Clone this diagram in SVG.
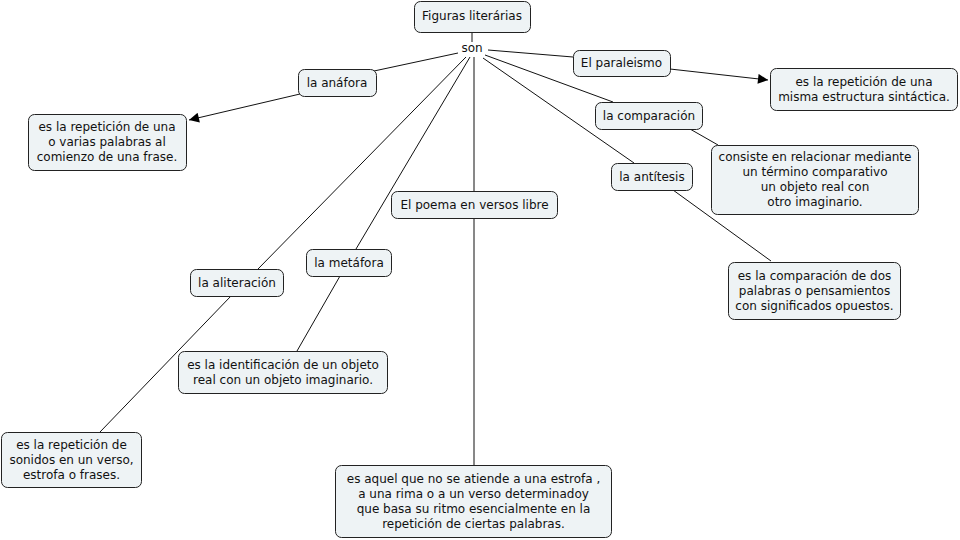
<svg xmlns="http://www.w3.org/2000/svg" width="960" height="540" viewBox="0 0 960 540">
<style>
.n rect{fill:#eef3f5;stroke:#222;stroke-width:1}
text{font-family:"DejaVu Sans",Verdana,sans-serif;font-size:12px;fill:#111;text-anchor:middle}
.c line{stroke:#111;stroke-width:1}
</style>
<defs>
<marker id="ah" viewBox="0 0 10 10" refX="10" refY="5" markerWidth="14" markerHeight="10" markerUnits="userSpaceOnUse" orient="auto">
<path d="M0,0 L10,5 L0,10 z" fill="#000"/>
</marker>
</defs>
<rect width="960" height="540" fill="#fff"/>
<g class="c">
<line x1="472" y1="32" x2="472" y2="42"/>
<line x1="458" y1="53" x2="374" y2="71"/>
<line x1="300" y1="94" x2="189" y2="120" marker-end="url(#ah)"/>
<line x1="488" y1="50" x2="573" y2="57"/>
<line x1="670" y1="69" x2="768" y2="80" marker-end="url(#ah)"/>
<line x1="485" y1="55" x2="613" y2="102"/>
<line x1="690" y1="129" x2="718" y2="145"/>
<line x1="483" y1="58" x2="634" y2="163"/>
<line x1="673" y1="190" x2="771" y2="261"/>
<line x1="474" y1="57" x2="474" y2="191"/>
<line x1="474" y1="218" x2="474" y2="465"/>
<line x1="470" y1="57" x2="356" y2="249"/>
<line x1="340" y1="276" x2="297" y2="351"/>
<line x1="466" y1="57" x2="258" y2="269"/>
<line x1="231" y1="296" x2="100" y2="432"/>
</g>
<g id="figuras" class="n"><rect x="414.5" y="1.5" width="116" height="31" rx="6"/><text x="472" y="20">Figuras literárias</text></g>
<g id="son"><text x="472" y="52">son</text></g>
<g id="anafora" class="n"><rect x="298.5" y="69.5" width="78" height="27" rx="6"/><text x="337" y="87">la anáfora</text></g>
<g id="anafora-def" class="n"><rect x="28.5" y="114.5" width="158" height="56" rx="6"/><text x="107" y="131">es la repetición de una</text><text x="107" y="146">o varias palabras al</text><text x="107" y="161">comienzo de una frase.</text></g>
<g id="paraleismo" class="n"><rect x="573.5" y="50.5" width="97" height="26" rx="6"/><text x="621.5" y="67">El paraleismo</text></g>
<g id="paraleismo-def" class="n"><rect x="770.5" y="68.5" width="187" height="42" rx="6"/><text x="864" y="85.5">es la repetición de una</text><text x="864" y="100.5">misma estructura sintáctica.</text></g>
<g id="comparacion" class="n"><rect x="595.5" y="102.5" width="107" height="27" rx="6"/><text x="649" y="120">la comparación</text></g>
<g id="comparacion-def" class="n"><rect x="711.5" y="145.5" width="207" height="69" rx="6"/><text x="815" y="161">consiste en relacionar mediante</text><text x="815" y="176">un término comparativo</text><text x="815" y="191">un objeto real con</text><text x="815" y="206">otro imaginario.</text></g>
<g id="antitesis" class="n"><rect x="611.5" y="163.5" width="81" height="27" rx="6"/><text x="652" y="181">la antítesis</text></g>
<g id="antitesis-def" class="n"><rect x="728.5" y="262.5" width="172" height="57" rx="6"/><text x="814.5" y="279.5">es la comparación de dos</text><text x="814.5" y="294.5">palabras o pensamientos</text><text x="814.5" y="309.5">con significados opuestos.</text></g>
<g id="poema" class="n"><rect x="391.5" y="191.5" width="166" height="27" rx="6"/><text x="474.5" y="209">El poema en versos libre</text></g>
<g id="poema-def" class="n"><rect x="335.5" y="465.5" width="276" height="72" rx="6"/><text x="473.5" y="482.5">es aquel que no se atiende a una estrofa ,</text><text x="473.5" y="497.5">a una rima o a un verso determinadoy</text><text x="473.5" y="512.5">que basa su ritmo esencialmente en la</text><text x="473.5" y="527.5">repetición de ciertas palabras.</text></g>
<g id="metafora" class="n"><rect x="306.5" y="249.5" width="85" height="27" rx="6"/><text x="349" y="267">la metáfora</text></g>
<g id="metafora-def" class="n"><rect x="178.5" y="351.5" width="209" height="42" rx="6"/><text x="283" y="368.5">es la identificación de un objeto</text><text x="283" y="383.5">real con un objeto imaginario.</text></g>
<g id="aliteracion" class="n"><rect x="190.5" y="269.5" width="93" height="27" rx="6"/><text x="237" y="287">la aliteración</text></g>
<g id="aliteracion-def" class="n"><rect x="1.5" y="432.5" width="140" height="55" rx="6"/><text x="71.5" y="448.5">es la repetición de</text><text x="71.5" y="463.5">sonidos en un verso,</text><text x="71.5" y="478.5">estrofa o frases.</text></g>
</svg>
